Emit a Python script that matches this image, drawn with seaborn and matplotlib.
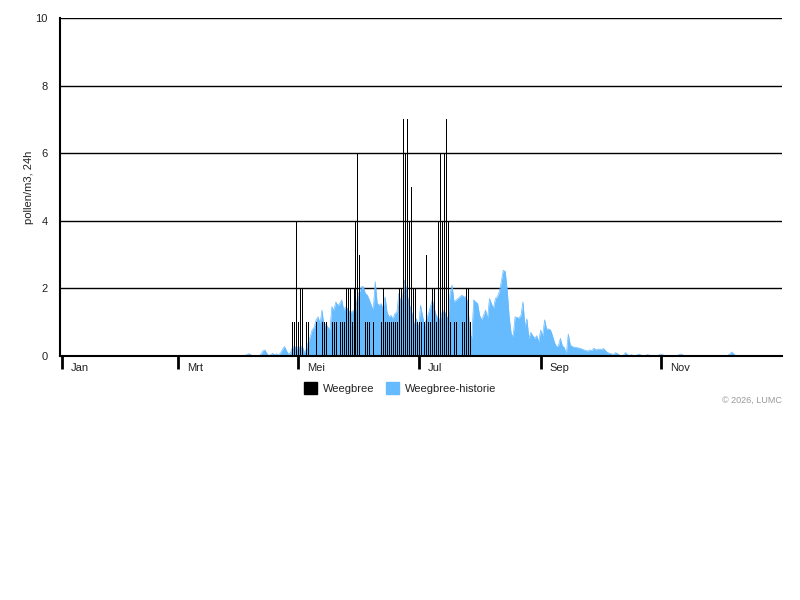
import numpy as np
import pandas as pd
import matplotlib
matplotlib.use('Agg')
import matplotlib.pyplot as plt
import matplotlib.transforms as mtransforms
import seaborn as sns

# month ticks (day of year, 0 = 1 jan)
month_days = [0, 59, 120, 181, 243, 304]
month_labels = ['Jan', 'Mrt', 'Mei', 'Jul', 'Sep', 'Nov']

# Weegbree: measured daily counts
obs_days = [117, 118, 119, 120, 121, 122, 124, 125, 129, 132, 133, 134, 137, 138, 139,
            141, 142, 143, 144, 145, 146, 147, 148, 149, 150, 151, 154, 155, 156, 158,
            162, 163, 164, 165, 166, 167, 168, 169, 170, 171, 172, 173, 174, 175, 176,
            177, 178, 179, 180, 181, 182, 184, 185, 186, 187, 188, 189, 190, 191, 192,
            193, 194, 195, 196, 197, 199, 200, 203, 204, 205, 206, 207]
obs_counts = [1, 1, 4, 1, 2, 2, 1, 1, 1, 1, 1, 1, 1, 1, 1,
              1, 1, 1, 2, 2, 2, 1, 2, 4, 6, 3, 1, 1, 1, 1,
              1, 2, 1, 1, 1, 1, 1, 1, 1, 2, 2, 7, 6, 7, 4,
              5, 2, 2, 1, 1, 1, 1, 3, 1, 1, 2, 2, 1, 4, 6,
              4, 6, 7, 4, 1, 1, 1, 1, 1, 2, 2, 1]

# Weegbree-historie: daily averages, day 90 .. 345 (rest ~0)
hist_start = 90
hist_values = [
    0, 0, 0, 0, 0.05, 0.07, 0.03, 0, 0, 0,
    0, 0.05, 0.15, 0.18, 0.08, 0, 0.04, 0.08, 0.03, 0.07,
    0.02, 0.1, 0.2, 0.28, 0.15, 0.05, 0.1, 0.25, 0.3, 0.22,
    0.28, 0.25, 0.3, 0.1, 0.2, 0.4, 0.57, 0.77, 0.85, 1.07,
    1.16, 0.95, 1.36, 0.87, 0.95, 0.85, 0.77, 1.46, 1.35, 1.6,
    1.5, 1.55, 1.66, 1.36, 1.45, 1.4, 1.3, 1.3, 1.35, 1.3,
    1.75, 1.9, 2.05, 2.05, 1.85, 1.8, 1.66, 1.5, 1.36, 2.2,
    1.56, 1.5, 1.55, 1.4, 1.75, 1.3, 1.16, 1.2, 1.1, 1.25,
    1.3, 1.85, 1.6, 1.8, 2.25, 1.9, 1.6, 1.4, 1.2, 0.87,
    1.1, 0.8, 1.5, 1.2, 0.9, 1.1, 1.25, 1.46, 1.66, 1.4,
    1.2, 1.1, 1.1, 1.3, 1.35, 1.2, 1.1, 1.85, 2.1, 1.6,
    1.65, 1.7, 1.75, 1.8, 1.75, 1.75, 1.6, 0.67, 0.52, 1.66,
    1.6, 1.55, 1.2, 1.07, 1.2, 1.36, 1.1, 1.7, 1.55, 1.4,
    1.7, 1.75, 1.9, 2.2, 2.54, 2.5, 1.95, 1.16, 0.67, 0.57,
    1.16, 1.14, 1.12, 1.21, 1.6, 0.87, 1.1, 0.52, 0.7, 0.6,
    0.52, 0.6, 0.42, 0.77, 0.6, 1.07, 0.8, 0.8, 0.77, 0.6,
    0.4, 0.28, 0.3, 0.52, 0.3, 0.25, 0.05, 0.65, 0.33, 0.28,
    0.26, 0.25, 0.24, 0.23, 0.2, 0.18, 0.16, 0.15, 0.18, 0.16,
    0.23, 0.18, 0.2, 0.2, 0.2, 0.22, 0.15, 0.1, 0.08, 0.06,
    0.05, 0.1, 0.07, 0.03, 0, 0.02, 0.1, 0.05, 0, 0.04,
    0.02, 0, 0.03, 0.06, 0.02, 0, 0, 0.04, 0.03, 0,
    0, 0, 0, 0.03, 0.06, 0.04, 0, 0, 0, 0,
    0, 0, 0, 0.03, 0.06, 0.04, 0, 0, 0, 0,
    0, 0, 0, 0, 0, 0, 0, 0, 0, 0,
    0, 0, 0, 0, 0, 0, 0, 0, 0.02, 0.06,
    0.12, 0.06, 0, 0, 0, 0]

hist = pd.DataFrame({'day': np.arange(hist_start, hist_start + len(hist_values)),
                     'value': hist_values})
obs = pd.DataFrame({'day': obs_days, 'count': obs_counts})

blue = '#66bbff'

sns.set_theme(style='white')
plt.rcParams['font.family'] = ['Liberation Sans', 'DejaVu Sans']

fig = plt.figure(figsize=(8, 6), dpi=100)
ax = fig.add_axes([60 / 800, 1 - 356 / 600, 722 / 800, 338 / 600])

# historie as filled area
ax.fill_between(hist['day'], hist['value'], 0, color=blue, linewidth=0, zorder=2)
sns.lineplot(data=hist, x='day', y='value', color=blue, linewidth=0.5, ax=ax, zorder=2)

# measured counts as thin black bars (1 px)
ax.vlines(obs['day'], 0, obs['count'], color='black', linewidth=0.5,
          antialiased=False, zorder=3)

ax.set_xlim(-1, 365.5)
ax.set_ylim(0, 10)
ax.set_yticks([0, 2, 4, 6, 8, 10])
ax.yaxis.grid(True, color='black', linewidth=1.0)
ax.set_axisbelow(True)
ax.tick_params(axis='y', length=0, pad=9, labelsize=8, labelcolor='#222222')

ax.set_xticks(month_days, month_labels)
ax.tick_params(axis='x', direction='out', length=9.5, width=2, color='black',
               pad=-4.4, labelsize=8, labelcolor='#222222', bottom=True)
shift = mtransforms.ScaledTranslation(6.5 / 72, 0, fig.dpi_scale_trans)
for lab in ax.get_xticklabels():
    lab.set_horizontalalignment('left')
    lab.set_transform(lab.get_transform() + shift)

for side in ['top', 'right']:
    ax.spines[side].set_visible(False)
ax.spines['left'].set_color('black')
ax.spines['left'].set_linewidth(1.5)
ax.spines['bottom'].set_color('black')
ax.spines['bottom'].set_linewidth(1.5)

ax.set_xlabel('')
ax.set_ylabel('pollen/m3, 24h', fontsize=8, color='#222222', labelpad=1)

handles = [plt.Rectangle((0, 0), 1, 1, color='black'),
           plt.Rectangle((0, 0), 1, 1, color=blue)]
fig.legend(handles, ['Weegbree', 'Weegbree-historie'], loc='center',
           bbox_to_anchor=(0.5, 1 - 388 / 600), ncol=2, frameon=False,
           fontsize=8, handlelength=1.2, handleheight=1.2, columnspacing=1.0,
           handletextpad=0.5, labelcolor='#222222')

fig.text(782 / 800, 1 - 400 / 600, '\u00a9 2026, LUMC', ha='right', va='center',
         fontsize=6.5, color='#999999')

fig.savefig('out.png', dpi=100)
